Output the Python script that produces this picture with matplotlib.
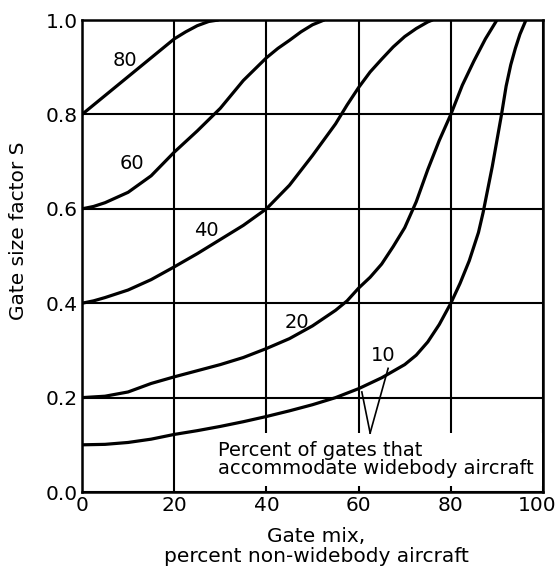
import matplotlib
matplotlib.use("Agg")
import matplotlib.pyplot as plt
from matplotlib.transforms import ScaledTranslation

# ---- data ----
x80 = [0, 5, 10, 15, 20, 22.5, 25, 27.5, 29.5]
s80 = [0.80, 0.84, 0.88, 0.92, 0.96, 0.975, 0.988, 0.997, 1.0]

x60 = [0, 2.5, 5, 10, 15, 20, 25, 30, 35, 40, 42.5, 45, 47.5, 50, 52.5]
s60 = [0.60, 0.605, 0.613, 0.635, 0.67, 0.72, 0.765, 0.813, 0.872, 0.92,
       0.94, 0.957, 0.975, 0.99, 1.0]

x40 = [0, 2.5, 5, 10, 15, 20, 25, 30, 35, 40, 45, 50, 55, 57.5, 60, 62.5,
       65, 67.5, 70, 72.5, 75, 76]
s40 = [0.40, 0.405, 0.412, 0.428, 0.45, 0.477, 0.505, 0.535, 0.565, 0.60,
       0.65, 0.713, 0.78, 0.82, 0.857, 0.89, 0.917, 0.943, 0.965, 0.982,
       0.996, 1.0]

x20 = [0, 5, 10, 15, 20, 25, 30, 35, 40, 45, 50, 55, 57.5, 60, 62.5, 65,
       67.5, 70, 72.5, 75, 77.5, 80, 82.5, 85, 87.5, 90]
s20 = [0.20, 0.203, 0.212, 0.23, 0.244, 0.257, 0.27, 0.285, 0.304, 0.325,
       0.352, 0.385, 0.405, 0.432, 0.455, 0.483, 0.52, 0.56, 0.615, 0.683,
       0.745, 0.80, 0.862, 0.913, 0.96, 1.0]

x10 = [0, 5, 10, 15, 20, 25, 30, 35, 40, 45, 50, 55, 60, 65, 70, 72.5, 75,
       77.5, 80, 82, 84, 86, 87, 89, 91, 92, 93, 94, 95, 96.3]
s10 = [0.10, 0.101, 0.105, 0.112, 0.122, 0.13, 0.139, 0.149, 0.16, 0.172,
       0.185, 0.20, 0.219, 0.242, 0.27, 0.29, 0.318, 0.355, 0.40, 0.442,
       0.49, 0.55, 0.592, 0.69, 0.80, 0.86, 0.905, 0.94, 0.97, 1.0]

curve_labels = ["80", "60", "40", "20", "10"]
label_x = [9.3, 10.8, 27.0, 46.6, 65.3]
label_y = [0.915, 0.697, 0.555, 0.36, 0.29]

xticks = [0, 20, 40, 60, 80, 100]
yticks = [0.0, 0.2, 0.4, 0.6, 0.8, 1.0]
ytick_labels = ["0.0", "0.2", "0.4", "0.6", "0.8", "1.0"]

ylabel = "Gate size factor S"
xlabel = "Gate mix,\npercent non-widebody aircraft"
note = "Percent of gates that\naccommodate widebody aircraft"
leader_start = (62.5, 0.125)
leader_ends = [(60.7, 0.212), (66.4, 0.262)]

# ---- figure ----
plt.rcParams['font.family'] = ['DejaVu Sans']
fig = plt.figure(figsize=(5.57, 5.76), dpi=100)
ax = fig.add_axes([0.1472, 0.1458, 0.8277, 0.8194])

for xs, ss in [(x80, s80), (x60, s60), (x40, s40), (x20, s20), (x10, s10)]:
    ax.plot(xs, ss, color="black", lw=2.3, solid_capstyle="round",
            solid_joinstyle="round", zorder=2)

for t, lx, ly in zip(curve_labels, label_x, label_y):
    ax.text(lx, ly, t, fontsize=14, ha="center", va="center", zorder=3)

ax.text(29.5, 0.069, note, fontsize=14, ha="left", va="center",
        linespacing=0.9, zorder=1,
        bbox=dict(facecolor="white", edgecolor="none", pad=6))

for ex, ey in leader_ends:
    ax.plot([leader_start[0], ex], [leader_start[1], ey], color="black",
            lw=1.2, zorder=2)

ax.set_xlim(0, 100)
ax.set_ylim(0, 1.0)
ax.set_xticks(xticks)
ax.set_yticks(yticks)
ax.set_yticklabels(ytick_labels)
ax.tick_params(length=0, labelsize=14.5, pad=3)
ax.tick_params(axis="y", pad=3)
ax.grid(True, color="black", lw=1.5)
ax.set_axisbelow(True)
for sp in ax.spines.values():
    sp.set_linewidth(1.8)
    sp.set_zorder(2.5)

# nudge the last x tick label so it stays within the figure
fig.canvas.draw()
last = ax.get_xticklabels()[-1]
last.set_transform(last.get_transform() + ScaledTranslation(-6 / 100, 0, fig.dpi_scale_trans))

ax.set_ylabel(ylabel, fontsize=14.5)
ax.yaxis.set_label_coords(-0.118, 0.553)
ax.set_xlabel(xlabel, fontsize=14.5, linespacing=1.1)
ax.xaxis.set_label_coords(0.508, -0.074)

fig.savefig("out.png", dpi=100)
